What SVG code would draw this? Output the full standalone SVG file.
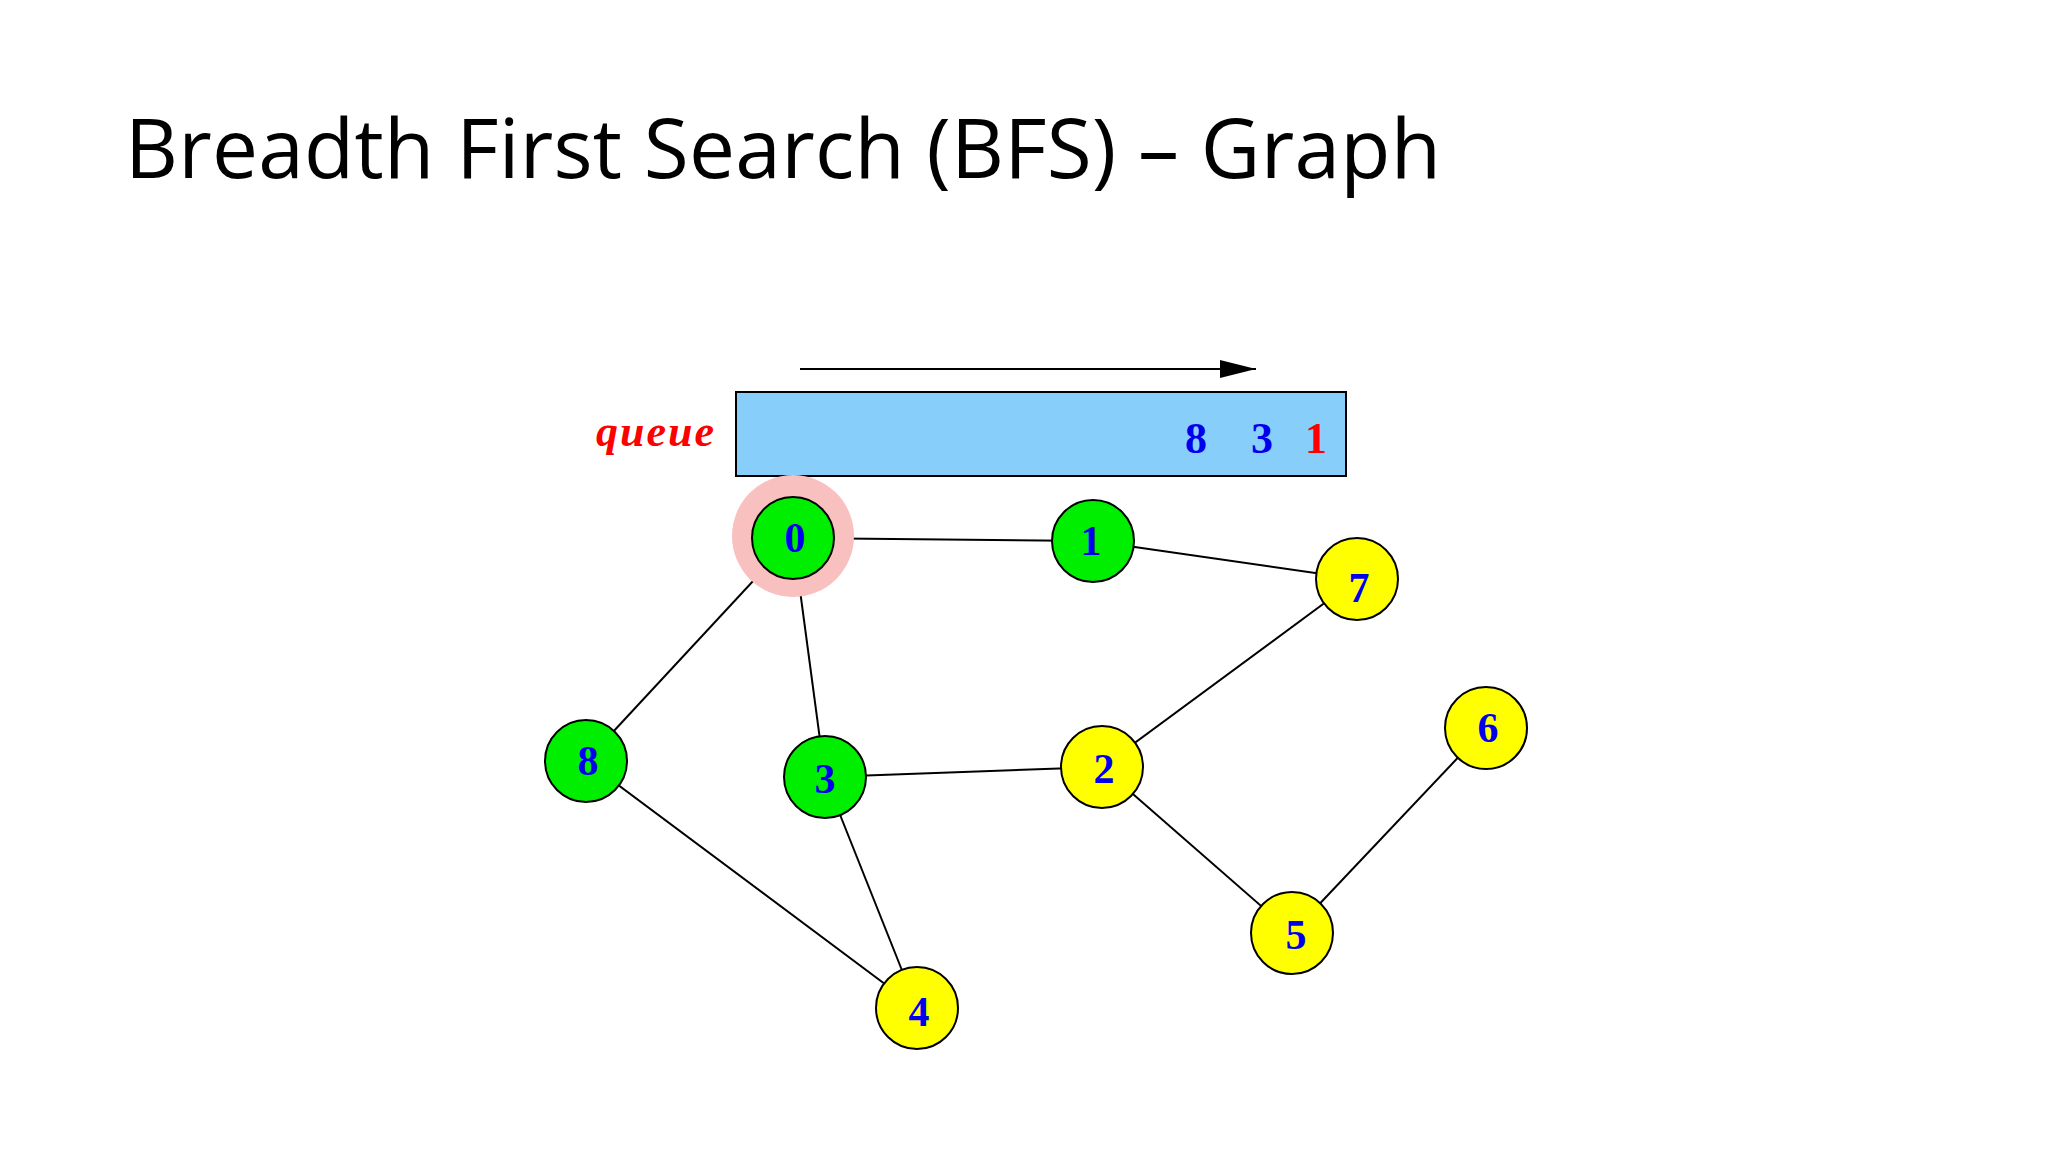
<svg xmlns="http://www.w3.org/2000/svg" width="2048" height="1152" viewBox="0 0 2048 1152">
<defs>
<style>
.n circle{stroke:#000;stroke-width:2}
.g{fill:#00ee00}.y{fill:#ffff00}
.n text{font-family:"Liberation Serif",serif;font-weight:bold;font-size:42px;fill:#0000ee;text-anchor:middle}
.e line{stroke:#000;stroke-width:2}
</style>
<marker id="ah" viewBox="0 0 10 10" refX="10" refY="5" markerWidth="9" markerHeight="6" orient="auto" markerUnits="userSpaceOnUse"><path d="M0,0L10,5L0,10z"/></marker>
</defs>
<rect width="2048" height="1152" fill="#fff"/>
<text x="125" y="178" font-family="Open Sans, sans-serif" font-size="82" textLength="1316" fill="#000">Breadth First Search (BFS)  –  Graph</text>
<g id="arrow"><line x1="800" y1="369" x2="1256" y2="369" stroke="#000" stroke-width="2"/><path d="M1220,360L1256,369L1220,378z"/></g>
<g id="queue">
<text x="596" y="446" font-family="Liberation Serif,serif" font-style="italic" font-weight="bold" font-size="44" fill="#ff0000" textLength="118">queue</text>
<rect x="736" y="392" width="610" height="84" fill="#87cefa" stroke="#000" stroke-width="2"/>
<text y="453" font-family="Liberation Serif,serif" font-weight="bold" font-size="44" text-anchor="middle"><tspan x="1196" fill="#0000ee">8</tspan><tspan x="1262" fill="#0000ee">3</tspan><tspan x="1316" fill="#ff0000">1</tspan></text>
</g>
<g id="edges" class="e">
<line x1="793" y1="538" x2="1093" y2="541"/>
<line x1="1093" y1="541" x2="1357" y2="579"/>
<line x1="793" y1="538" x2="586" y2="761"/>
<line x1="793" y1="538" x2="825" y2="777"/>
<line x1="1357" y1="579" x2="1102" y2="767"/>
<line x1="825" y1="777" x2="1102" y2="767"/>
<line x1="586" y1="761" x2="917" y2="1008"/>
<line x1="825" y1="777" x2="917" y2="1008"/>
<line x1="1102" y1="767" x2="1292" y2="933"/>
<line x1="1486" y1="728" x2="1292" y2="933"/>
</g>
<circle cx="793" cy="536" r="61" fill="#f9c0c0"/>
<g id="n0" class="n"><circle class="g" cx="793" cy="538" r="41"/><text x="795" y="552">0</text></g>
<g id="n1" class="n"><circle class="g" cx="1093" cy="541" r="41"/><text x="1091" y="555">1</text></g>
<g id="n7" class="n"><circle class="y" cx="1357" cy="579" r="41"/><text x="1359" y="602">7</text></g>
<g id="n8" class="n"><circle class="g" cx="586" cy="761" r="41"/><text x="588" y="775">8</text></g>
<g id="n3" class="n"><circle class="g" cx="825" cy="777" r="41"/><text x="825" y="793">3</text></g>
<g id="n2" class="n"><circle class="y" cx="1102" cy="767" r="41"/><text x="1104" y="783">2</text></g>
<g id="n6" class="n"><circle class="y" cx="1486" cy="728" r="41"/><text x="1488" y="742">6</text></g>
<g id="n5" class="n"><circle class="y" cx="1292" cy="933" r="41"/><text x="1296" y="949">5</text></g>
<g id="n4" class="n"><circle class="y" cx="917" cy="1008" r="41"/><text x="919" y="1026">4</text></g>
</svg>
